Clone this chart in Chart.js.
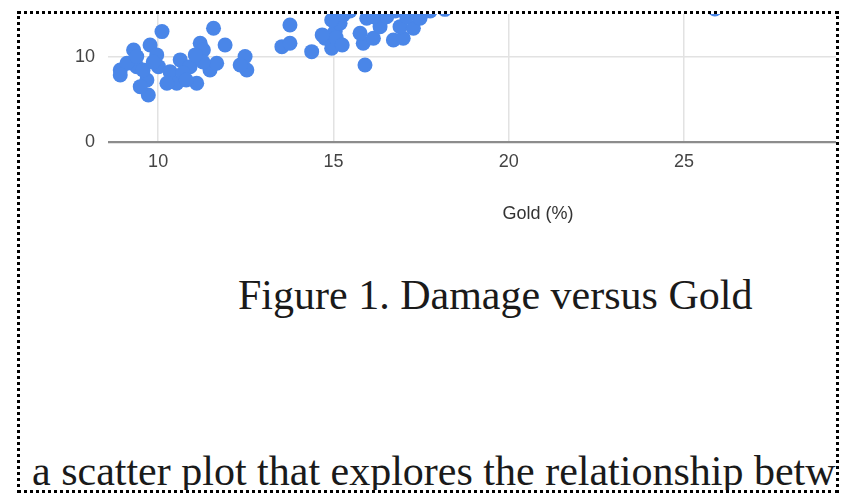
<!DOCTYPE html>
<html>
<head>
<meta charset="utf-8">
<script src="https://cdn.jsdelivr.net/npm/chart.js@4.4.1/dist/chart.umd.min.js"></script>
<style>
  html, body { margin: 0; padding: 0; background: #fff; }
  body { width: 848px; height: 498px; position: relative; overflow: hidden; }
  #frame {
    position: absolute; left: 17px; top: 11px;
    width: 816px; height: 476px;
    border: 3px dotted #000;
    overflow: hidden;
  }
  #chartCanvas { position: absolute; left: 18px; top: -236px; }
  .doc {
    position: absolute; white-space: nowrap;
    font-family: "Liberation Serif", "Times New Roman", serif;
    font-size: 42px; line-height: 42px; color: #1a1a1a;
  }
  #caption { left: 218px; top: 260px; }
  #bodyText { left: 12px; top: 436px; }
</style>
</head>
<body>
<div id="frame">
  <canvas id="chartCanvas" width="940" height="447"></canvas>
  <div class="doc" id="caption"></div>
  <div class="doc" id="bodyText"></div>
</div>
<script>
// datos (solo la parte visible)
const goldPct = [
  10.11, 11.58, 11.20, 11.91, 9.77, 9.30, 12.48, 12.53, 8.92, 9.39,
  9.68, 9.72, 9.49, 10.01, 10.34, 10.53, 10.63, 10.91, 11.10, 11.48,
  11.67, 10.25, 9.11, 9.96, 11.29, 10.71, 9.39, 8.92, 9.57, 11.28,
  10.80, 9.86, 11.06, 12.34,
  13.76, 13.53, 13.76, 14.38, 14.95, 14.76, 15.05, 15.19, 15.28, 14.95,
  15.90, 15.85, 16.14, 15.76, 15.95, 16.33, 16.71, 16.99, 16.90, 17.28,
  17.47, 17.09, 16.52, 16.14, 15.08, 14.68, 15.25, 16.76, 17.76, 15.47,
  18.18, 25.88
];
const damage = [
  12.98, 13.38, 11.61, 11.41, 11.41, 10.82, 10.04, 8.47, 8.47, 8.86,
  7.29, 5.53, 6.51, 8.86, 8.27, 6.90, 9.65, 8.86, 6.90, 8.47,
  9.26, 6.90, 9.26, 10.24, 10.82, 8.10, 10.04, 7.88, 8.47, 9.41,
  7.29, 9.41, 10.24, 9.06,
  13.76, 11.21, 11.61, 10.62, 11.02, 12.20, 12.98, 13.96, 14.94, 14.35,
  9.06, 11.61, 12.20, 12.78, 14.55, 13.56, 12.00, 12.20, 13.56, 13.38,
  14.55, 14.74, 14.74, 14.74, 12.24, 12.59, 11.41, 15.40, 15.40, 15.40,
  15.60, 15.65
];
const xTicks = [10, 15, 20, 25, 30];
const yTicks = [0, 10, 20, 30, 40];
const xTitle = 'Gold (%)';
const captionText = 'Figure 1. Damage versus Gold';
const bodyLine = 'a scatter plot that explores the relationship between';

document.getElementById('caption').textContent = captionText;
document.getElementById('bodyText').textContent = bodyLine;

const points = goldPct.map((g, i) => ({ x: g, y: damage[i] }));
const tickFont = { family: 'Arial, "Liberation Sans", sans-serif', size: 18 };

const ctx = document.getElementById('chartCanvas').getContext('2d');
new Chart(ctx, {
  type: 'scatter',
  data: {
    datasets: [{
      data: points,
      backgroundColor: '#4a86e8',
      borderWidth: 0,
      pointRadius: 7.5,
      pointHoverRadius: 7.5
    }]
  },
  options: {
    responsive: false,
    animation: false,
    events: [],
    layout: { padding: { top: 1, right: 10, left: 0, bottom: 0 } },
    plugins: { legend: { display: false }, tooltip: { enabled: false } },
    scales: {
      x: {
        type: 'linear',
        min: 8.57,
        max: 33.1,
        afterBuildTicks: s => { s.ticks = xTicks.map(v => ({ value: v })); },
        afterFit: s => { s.height = 83; },
        grid: { color: '#e2e2e2', lineWidth: 1.5, drawTicks: false },
        border: { display: false },
        ticks: { padding: 9, color: '#444', font: tickFont },
        title: { display: true, text: xTitle, color: '#333', font: tickFont, padding: 0 }
      },
      y: {
        type: 'linear',
        min: 0,
        max: 40,
        afterBuildTicks: s => { s.ticks = yTicks.map(v => ({ value: v })); },
        afterFit: s => { s.width = 70; },
        grid: {
          color: c => c.tick && c.tick.value === 0 ? '#8c8c8c' : '#e2e2e2',
          lineWidth: c => c.tick && c.tick.value === 0 ? 2.2 : 1.5,
          drawTicks: false
        },
        border: { display: false },
        ticks: { padding: 13, color: '#444', font: tickFont }
      }
    }
  }
});
</script>
</body>
</html>
